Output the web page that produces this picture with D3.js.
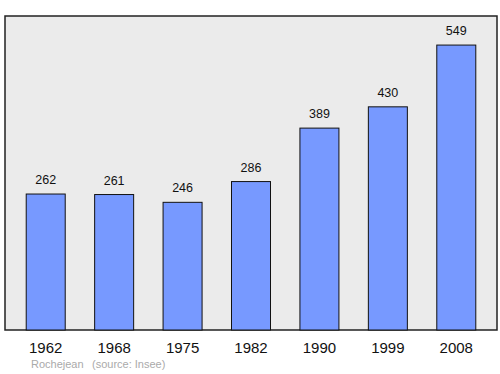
<!DOCTYPE html>
<html>
<head>
<meta charset="utf-8">
<script src="https://cdn.jsdelivr.net/npm/d3@7"></script>
<style>
  body { margin: 0; background: #fff; }
  text { font-family: "Liberation Sans", Arial, sans-serif; }
</style>
</head>
<body>
<svg id="chart" width="500" height="374"></svg>
<script>
const years = ["1962", "1968", "1975", "1982", "1990", "1999", "2008"]
const population = [262, 261, 246, 286, 389, 430, 549]
const town = "Rochejean"
const source = "(source: Insee)"

const svg = d3.select("#chart")

const panelLeft = 5, panelRight = 497, panelTop = 16, panelBottom = 330

const xScale = d3.scaleBand()
  .domain(years)
  .range([panelLeft, panelRight])
  .paddingInner(0.43)
  .paddingOuter(0.31)

const yScale = d3.scaleLinear()
  .domain([0, 605])
  .range([panelBottom, panelTop])

svg.append("rect")
  .attr("x", panelLeft)
  .attr("y", panelTop)
  .attr("width", panelRight - panelLeft)
  .attr("height", panelBottom - panelTop)
  .attr("fill", "#ebebeb")
  .attr("stroke", "#222")
  .attr("stroke-width", 1.5)

const data = years.map((y, i) => ({ year: y, value: population[i] }))

svg.selectAll(".bar")
  .data(data)
  .enter()
  .append("rect")
  .classed("bar", true)
  .attr("x", d => xScale(d.year))
  .attr("y", d => yScale(d.value))
  .attr("width", xScale.bandwidth())
  .attr("height", d => panelBottom - yScale(d.value))
  .attr("fill", "#7799ff")
  .attr("stroke", "#111")
  .attr("stroke-width", 1)

svg.selectAll(".val")
  .data(data)
  .enter()
  .append("text")
  .classed("val", true)
  .attr("x", d => xScale(d.year) + xScale.bandwidth() / 2)
  .attr("y", d => yScale(d.value) - 10)
  .attr("text-anchor", "middle")
  .attr("font-size", 12.5)
  .attr("fill", "#111")
  .text(d => d.value)

svg.selectAll(".year")
  .data(years)
  .enter()
  .append("text")
  .classed("year", true)
  .attr("x", d => xScale(d) + xScale.bandwidth() / 2)
  .attr("y", 353)
  .attr("text-anchor", "middle")
  .attr("font-size", 15)
  .attr("fill", "#111")
  .text(d => d)

svg.append("text")
  .attr("x", 31)
  .attr("y", 368)
  .attr("font-size", 11)
  .attr("fill", "#aaa")
  .text(town)

svg.append("text")
  .attr("x", 92)
  .attr("y", 368)
  .attr("font-size", 11)
  .attr("fill", "#aaa")
  .text(source)
</script>
</body>
</html>
